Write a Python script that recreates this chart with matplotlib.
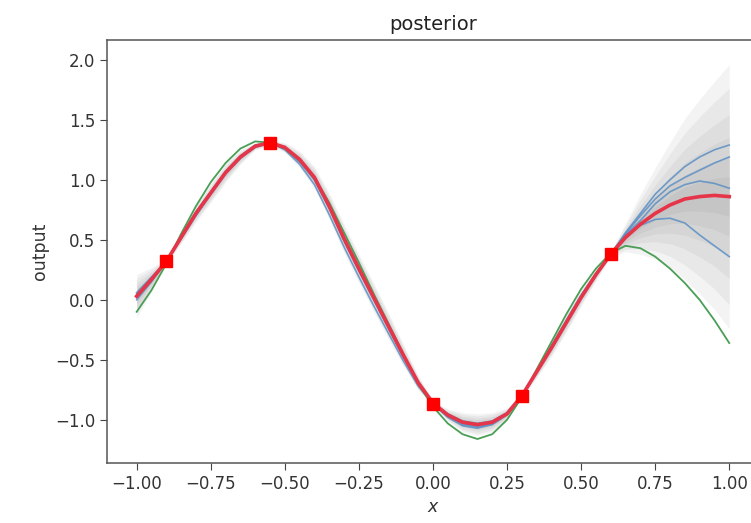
import matplotlib.pyplot as plt
import numpy as np

# grid of x values the curves were read at
xs = np.round(np.arange(-1.0, 1.0001, 0.05), 2)

# posterior mean (red)
mean = [0.03, 0.17, 0.32, 0.52, 0.72, 0.89, 1.06, 1.19, 1.28, 1.31,
        1.27, 1.17, 1.02, 0.78, 0.51, 0.26, 0.02, -0.22, -0.46, -0.69,
        -0.86, -0.96, -1.02, -1.04, -1.02, -0.95, -0.80, -0.60, -0.40, -0.19,
        0.02, 0.21, 0.38, 0.52, 0.63, 0.72, 0.79, 0.84, 0.86, 0.87, 0.86]

# half width of the outer shaded band
spread = [0.18, 0.10, 0.02, 0.05, 0.07, 0.08, 0.08, 0.06, 0.03, 0.02,
          0.04, 0.07, 0.09, 0.11, 0.12, 0.12, 0.12, 0.11, 0.09, 0.06,
          0.02, 0.05, 0.08, 0.09, 0.08, 0.05, 0.02, 0.05, 0.07, 0.08,
          0.07, 0.05, 0.02, 0.12, 0.25, 0.38, 0.52, 0.67, 0.81, 0.95, 1.10]

# posterior samples
green = [-0.10, 0.08, 0.30, 0.55, 0.78, 0.98, 1.14, 1.26, 1.32, 1.31,
         1.26, 1.16, 1.02, 0.81, 0.56, 0.31, 0.05, -0.20, -0.45, -0.70,
         -0.89, -1.03, -1.12, -1.16, -1.12, -1.00, -0.81, -0.58, -0.35, -0.12,
         0.09, 0.26, 0.39, 0.45, 0.43, 0.36, 0.26, 0.14, 0.00, -0.17, -0.36]

blue_a = [0.05, 0.18, 0.32, 0.51, 0.71, 0.88, 1.05, 1.18, 1.27, 1.31,
          1.25, 1.13, 0.96, 0.71, 0.44, 0.19, -0.05, -0.28, -0.51, -0.72,
          -0.87, -0.98, -1.05, -1.07, -1.04, -0.96, -0.80, -0.59, -0.38, -0.17,
          0.04, 0.22, 0.38, 0.56, 0.72, 0.88, 1.00, 1.11, 1.19, 1.25, 1.29]
blue_b = [0.02, 0.16, 0.32, 0.53, 0.73, 0.90, 1.07, 1.20, 1.29, 1.31,
          1.26, 1.15, 1.00, 0.76, 0.49, 0.24, 0.00, -0.24, -0.48, -0.70,
          -0.86, -0.97, -1.04, -1.06, -1.03, -0.95, -0.80, -0.61, -0.41, -0.20,
          0.01, 0.20, 0.38, 0.55, 0.70, 0.84, 0.95, 1.02, 1.08, 1.14, 1.19]
blue_c = [0.06, 0.19, 0.32, 0.51, 0.70, 0.88, 1.05, 1.18, 1.28, 1.31,
          1.27, 1.16, 1.01, 0.77, 0.50, 0.25, 0.01, -0.23, -0.47, -0.70,
          -0.86, -0.95, -1.01, -1.03, -1.01, -0.94, -0.80, -0.60, -0.40, -0.19,
          0.02, 0.21, 0.38, 0.54, 0.66, 0.80, 0.90, 0.96, 0.99, 0.97, 0.93]
blue_d = [0.00, 0.15, 0.32, 0.53, 0.73, 0.90, 1.06, 1.19, 1.28, 1.31,
          1.26, 1.16, 1.00, 0.77, 0.50, 0.25, 0.01, -0.23, -0.47, -0.69,
          -0.86, -0.97, -1.03, -1.05, -1.03, -0.95, -0.80, -0.60, -0.40, -0.19,
          0.02, 0.21, 0.38, 0.53, 0.62, 0.67, 0.68, 0.64, 0.54, 0.45, 0.36]

# training data
x_train = [-0.90, -0.55, 0.00, 0.30, 0.60]
y_train = [0.32, 1.31, -0.87, -0.80, 0.38]

mean = np.array(mean)
spread = np.array(spread)

fig = plt.figure(figsize=(7.51, 5.23), dpi=100)
ax = fig.add_axes([0.1425, 0.1147, 0.868, 0.8088])

# layered density shading, a few soft bands
levels = [1.0, 0.82, 0.62, 0.45, 0.3, 0.15]
for f in levels:
    ax.fill_between(xs, mean - f * spread, mean + f * spread,
                    color='#7a7a7a', alpha=0.085, linewidth=0, zorder=1)

for s in [blue_a, blue_b, blue_c, blue_d]:
    ax.plot(xs, s, color='#5b8fc4', lw=1.2, alpha=0.85, zorder=2,
            solid_joinstyle='round')
ax.plot(xs, green, color='#4a9e55', lw=1.3, zorder=2, solid_joinstyle='round')

ax.plot(xs, mean, color='#e63448', lw=2.6, zorder=3, solid_joinstyle='round')
ax.plot(x_train, y_train, 's', color='#ff0000', markersize=8.5, zorder=4)

ax.set_xlim(-1.1, 1.1)
ax.set_ylim(-1.36, 2.165)
ax.set_xticks([-1.0, -0.75, -0.5, -0.25, 0.0, 0.25, 0.5, 0.75, 1.0])
ax.set_xticklabels(['−1.00', '−0.75', '−0.50', '−0.25', '0.00',
                    '0.25', '0.50', '0.75', '1.00'])
ax.set_yticks([-1.0, -0.5, 0.0, 0.5, 1.0, 1.5, 2.0])
ax.tick_params(labelsize=12, length=5, color='#444444', labelcolor='#333333')
for sp in ax.spines.values():
    sp.set_color('#555555')
    sp.set_linewidth(1.1)

ax.set_title('posterior', fontsize=14, color='#222222', pad=7)
ax.set_xlabel('$x$', fontsize=12.5, color='#333333')
ax.set_ylabel('output', fontsize=12.5, color='#333333')

fig.savefig('out.png', dpi=100)
